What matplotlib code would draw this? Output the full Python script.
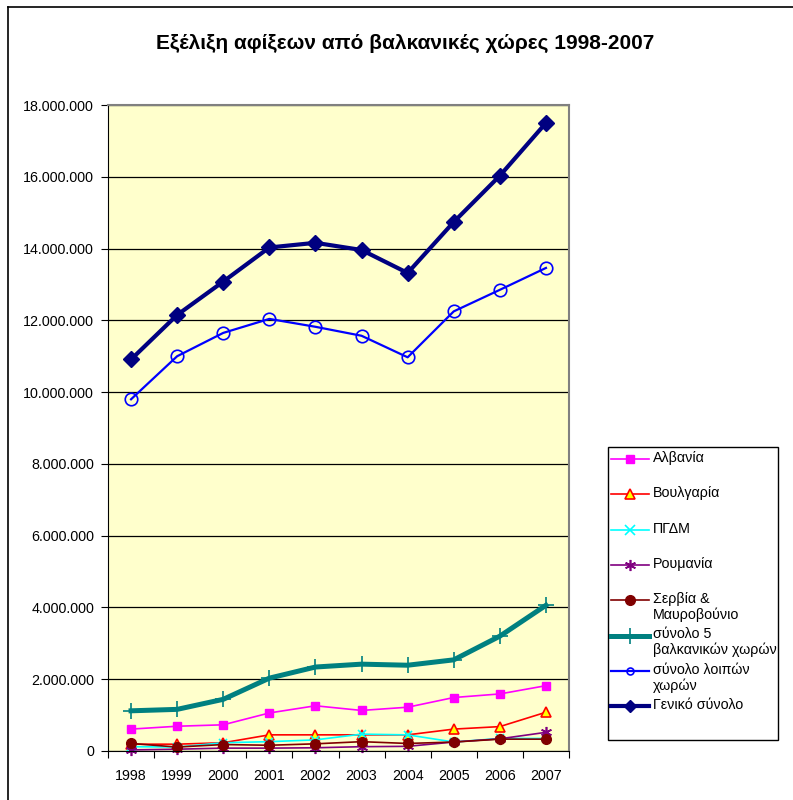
import matplotlib
matplotlib.use("Agg")
import matplotlib.pyplot as plt
from matplotlib.lines import Line2D
from matplotlib.patches import Rectangle
from matplotlib.ticker import FuncFormatter, FixedLocator, MultipleLocator

plt.rcParams['font.family'] = ['Liberation Sans', 'DejaVu Sans']

years = ["1998", "1999", "2000", "2001", "2002", "2003", "2004", "2005", "2006", "2007"]

albania = [610000, 690000, 730000, 1060000, 1260000, 1130000, 1220000, 1490000, 1590000, 1820000]
bulgaria = [190000, 190000, 230000, 450000, 450000, 450000, 450000, 610000, 680000, 1080000]
fyrom = [120000, 110000, 230000, 260000, 310000, 470000, 450000, 250000, 350000, 350000]
romania = [30000, 50000, 80000, 80000, 90000, 120000, 130000, 250000, 340000, 520000]
serbia = [210000, 110000, 180000, 160000, 200000, 260000, 210000, 250000, 330000, 330000]
balkan_total = [1120000, 1160000, 1440000, 2030000, 2340000, 2420000, 2390000, 2540000, 3200000, 4060000]
others_total = [9800000, 11000000, 11650000, 12040000, 11820000, 11570000, 10970000, 12250000, 12850000, 13460000]
grand_total = [10910000, 12150000, 13080000, 14030000, 14160000, 13960000, 13320000, 14740000, 16030000, 17500000]

labels = ["Αλβανία", "Βουλγαρία", "ΠΓΔΜ", "Ρουμανία", "Σερβία &\nΜαυροβούνιο",
          "σύνολο 5\nβαλκανικών χωρών", "σύνολο λοιπών\nχωρών", "Γενικό σύνολο"]
series = [albania, bulgaria, fyrom, romania, serbia, balkan_total, others_total, grand_total]

styles = [
    dict(color='#FF00FF', lw=1.2, marker='s', ms=6, mfc='#FF00FF', mec='#FF00FF', mew=1),
    dict(color='#FF0000', lw=1.2, marker='^', ms=7, mfc='#FFFF00', mec='#FF0000', mew=1.2),
    dict(color='#00FFFF', lw=1.2, marker='x', ms=6, mfc='#00FFFF', mec='#00FFFF', mew=1.2),
    dict(color='#800080', lw=1.2, marker=(6, 2, 0), ms=8, mfc='#800080', mec='#800080', mew=1.2),
    dict(color='#800000', lw=1.2, marker='o', ms=7, mfc='#800000', mec='#800000', mew=1),
    dict(color='#008080', lw=3.6, marker='+', ms=12, mfc='#008080', mec='#008080', mew=1.2),
    dict(color='#0000FF', lw=1.6, marker='o', ms=9, mfc='none', mec='#0000FF', mew=1.2),
    dict(color='#000080', lw=3.0, marker='D', ms=8, mfc='#000080', mec='#000080', mew=1),
]
legend_ms = [6, 7, 7, 8, 7, 11, 5, 6]

W, H = 793, 800
fig = plt.figure(figsize=(W / 100, H / 100), dpi=100)

ax = fig.add_axes([108 / W, 1 - 751 / H, (569 - 108) / W, (751 - 105) / H])
ax.set_facecolor('#FFFFCC')

x = list(range(len(years)))
for vals, st in zip(series, styles):
    ax.plot(x, vals, color=st['color'], lw=st['lw'], marker=st['marker'], ms=st['ms'],
            mfc=st['mfc'], mec=st['mec'], mew=st['mew'], solid_joinstyle='round', clip_on=False)

ax.set_xlim(-0.5, len(years) - 0.5)
ax.set_ylim(0, 18000000)
ax.yaxis.set_major_locator(MultipleLocator(2000000))
ax.yaxis.set_major_formatter(FuncFormatter(lambda v, p: f"{int(v):,}".replace(",", ".")))
ax.grid(axis='y', color='black', lw=0.9)
ax.set_axisbelow(True)

ax.xaxis.set_major_locator(FixedLocator([i - 0.5 for i in range(len(years) + 1)]))
ax.xaxis.set_major_formatter(FuncFormatter(lambda v, p: ""))
ax.xaxis.set_minor_locator(FixedLocator(x))
ax.set_xticklabels(years, minor=True)
ax.tick_params(axis='x', which='major', direction='out', length=5, color='black')
ax.tick_params(axis='x', which='minor', length=0, pad=13, labelsize=10.3)
ax.tick_params(axis='y', direction='out', length=5, pad=5, labelsize=10.3, color='black')

for s in ['top', 'right']:
    ax.spines[s].set_color('#808080')
    ax.spines[s].set_linewidth(1.5)
ax.spines['left'].set_color('black')
ax.spines['bottom'].set_color('black')

fig.text(405 / W, 1 - 43 / H, "Εξέλιξη αφίξεων από βαλκανικές χώρες 1998-2007",
         ha='center', va='center', fontsize=15, fontweight='bold')

# outer chart frame
fig.add_artist(Line2D([8 / W, 8 / W], [1 - 7 / H, 0], transform=fig.transFigure, color='black', lw=1.2))
fig.add_artist(Line2D([8 / W, 1], [1 - 7 / H, 1 - 7 / H], transform=fig.transFigure, color='black', lw=1.2))

# legend
fig.add_artist(Rectangle((608 / W, 1 - 740 / H), (778 - 608) / W, (740 - 447) / H,
                         transform=fig.transFigure, facecolor='white', edgecolor='black', lw=1))
for i, (lab, st) in enumerate(zip(labels, styles)):
    yc = 459 + i * 35.3
    yf = 1 - yc / H
    fig.add_artist(Line2D([611 / W, 649 / W], [yf, yf], transform=fig.transFigure,
                          color=st['color'], lw=st['lw']))
    fig.add_artist(Line2D([630 / W], [yf], transform=fig.transFigure, color=st['color'], lw=0,
                          marker=st['marker'], ms=legend_ms[i], mfc=st['mfc'], mec=st['mec'], mew=st['mew']))
    fig.text(653 / W, 1 - (yc - 8) / H, lab, ha='left', va='top', fontsize=10.3, linespacing=1.12)

fig.savefig("out.png", dpi=100)
